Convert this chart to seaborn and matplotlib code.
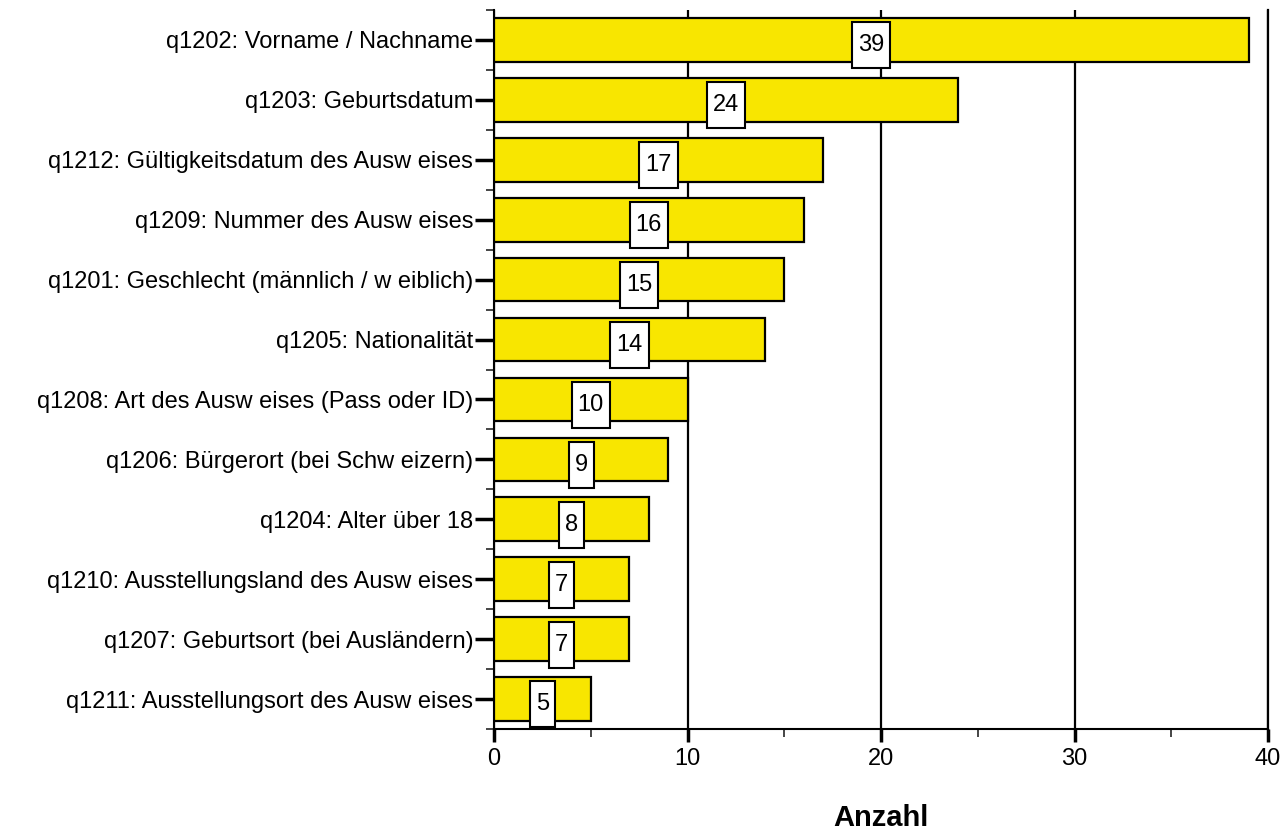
import numpy as np
import matplotlib.pyplot as plt
import matplotlib.patches as mpatches
from matplotlib.ticker import MultipleLocator
import seaborn as sns

labels = [
    "q1202: Vorname / Nachname",
    "q1203: Geburtsdatum",
    "q1212: Gültigkeitsdatum des Ausw eises",
    "q1209: Nummer des Ausw eises",
    "q1201: Geschlecht (männlich / w eiblich)",
    "q1205: Nationalität",
    "q1208: Art des Ausw eises (Pass oder ID)",
    "q1206: Bürgerort (bei Schw eizern)",
    "q1204: Alter über 18",
    "q1210: Ausstellungsland des Ausw eises",
    "q1207: Geburtsort (bei Ausländern)",
    "q1211: Ausstellungsort des Ausw eises",
]
counts = [39, 24, 17, 16, 15, 14, 10, 9, 8, 7, 7, 5]
x_ticks = [0, 10, 20, 30, 40]

sns.set_style("white")
plt.rcParams['font.family'] = ['Liberation Sans', 'DejaVu Sans']
plt.rcParams['text.color'] = 'black'

fig = plt.figure(figsize=(12.81, 8.32), dpi=100)
ax = fig.add_axes([494 / 1281, 1 - 729 / 832, (1268 - 494) / 1281, 719 / 832])

sns.barplot(x=counts, y=labels, orient="h", color="#F8E600", saturation=1,
            edgecolor="black", linewidth=1.6, width=0.73, ax=ax, zorder=3)

ax.set_xlim(0, 40)
ax.set_ylim(len(labels) - 0.5, -0.5)
ax.set_xticks(x_ticks)
ax.xaxis.set_minor_locator(MultipleLocator(5))
ax.set_yticks(np.arange(-0.5, len(labels), 1.0), minor=True)
ax.grid(axis="x", which="major", color="black", linewidth=1.6, zorder=0)
ax.grid(axis="y", visible=False)

ax.spines["top"].set_visible(False)
ax.spines["right"].set_color("black")
ax.spines["right"].set_linewidth(1.6)
for side in ["left", "bottom"]:
    ax.spines[side].set_color("black")
    ax.spines[side].set_linewidth(1.5)

ax.tick_params(axis="x", which="major", length=9, width=2.5, colors="black",
               labelsize=17, pad=5, bottom=True)
ax.tick_params(axis="x", which="minor", length=6, width=1.2, bottom=True)
ax.tick_params(axis="y", which="major", length=14, width=2.5, colors="black",
               labelsize=17, pad=1, left=True)
ax.tick_params(axis="y", which="minor", length=6, width=1.2, left=True)

ax.set_ylabel("")
ax.set_xlabel("Anzahl", fontsize=21, fontweight="bold", color="black",
              labelpad=24)

# value boxes in the middle of each bar
fig.canvas.draw()
renderer = fig.canvas.get_renderer()
inv = ax.transData.inverted()
for p, v in zip(ax.patches, counts):
    cx = p.get_x() + p.get_width() / 2
    cy = p.get_y() + p.get_height() / 2 + 0.09
    t = ax.text(cx, cy, str(v), ha="center", va="center", fontsize=17,
                color="black", zorder=6)
    bb = t.get_window_extent(renderer=renderer)
    px, py = ax.transData.transform((cx, cy))
    w = bb.width + 12
    h = 46
    (x0, y0) = inv.transform((px - w / 2, py - h / 2))
    (x1, y1) = inv.transform((px + w / 2, py + h / 2))
    ax.add_patch(mpatches.Rectangle((x0, y0), x1 - x0, y1 - y0,
                                    facecolor="white", edgecolor="black",
                                    linewidth=1.5, zorder=5))

fig.savefig("out.png", dpi=100)
